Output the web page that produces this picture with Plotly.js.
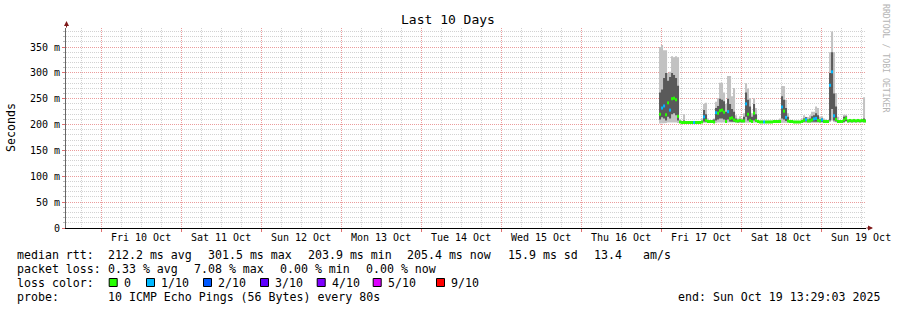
<!DOCTYPE html>
<html><head><meta charset="utf-8">
<script src="https://cdn.plot.ly/plotly-3.0.1.min.js"></script>
<style>html,body{margin:0;padding:0;background:#fff}#chart{width:897px;height:310px}</style>
</head><body><div id="chart"></div>
<script>
// ---------- data ----------
const rangeStart = '2025-10-09 13:29:03';
const rangeEnd = '2025-10-19 13:29:03';
const sampleStart = '2025-10-16 23:24:00';
const sampleStepMin = 36;

const medianMs = [220,232,236,219,242,228,250,251,248,216,
  205,204,204,204,204,204,204,204,204,204,
  204,205,215,208,206,206,206,205,223,222,
  227,228,224,206,225,212,213,209,207,207,
  208,207,207,240,220,208,206,222,208,206,
  205,205,205,205,205,205,205,206,206,206,
  206,234,226,214,207,206,206,205,205,205,
  205,206,208,210,207,207,209,211,212,208,
  207,209,206,206,206,276,302,217,210,206,
  206,206,209,212,207,208,207,208,207,208,
  207,208,207,207];
const lossCount = [0,1,1,0,0,1,0,0,0,0,
  0,0,0,0,0,0,0,1,0,0,
  0,0,1,0,0,0,0,0,1,0,
  0,0,0,0,1,0,0,0,0,0,
  0,0,0,1,0,0,0,0,0,0,
  0,0,1,0,0,0,0,0,0,0,
  0,1,0,1,0,0,0,0,0,0,
  0,0,0,1,0,0,0,1,1,0,
  0,1,0,0,0,1,1,1,0,0,
  0,0,0,0,0,0,0,0,0,0,
  0,0,0,0];
const pingMinMs = [202,203,203,203,204,204,205,205,204,203,
  203,202,202,202,202,202,202,202,202,202,
  202,203,203,203,203,203,203,203,203,204,
  204,204,204,203,204,203,203,203,203,203,
  203,203,203,204,203,203,203,204,203,203,
  203,203,203,203,203,203,203,203,203,203,
  203,204,204,203,203,203,203,203,203,203,
  203,203,203,203,203,203,203,204,204,203,
  203,203,203,203,203,205,208,205,204,203,
  203,203,203,205,203,204,204,204,204,204,
  204,204,204,204];
const pingLowMs = [210,214,212,208,215,212,220,222,218,208,
  204,203,203,203,203,203,203,203,203,203,
  203,204,206,205,204,204,204,204,208,210,
  212,212,210,205,210,206,206,205,205,204,
  205,204,205,215,208,206,205,208,205,204,
  204,204,204,204,204,204,204,204,204,204,
  204,212,210,207,205,204,204,204,204,204,
  204,204,205,206,205,205,205,206,206,205,
  205,205,204,204,204,208,230,208,206,204,
  204,204,205,207,205,205,205,205,205,205,
  205,205,205,205];
const pingHighMs = [262,268,290,300,285,292,300,296,290,275,
  206,206,208,206,206,206,206,206,206,206,
  206,207,228,220,208,207,207,210,232,236,
  250,248,245,225,250,240,230,225,212,208,
  210,208,215,262,248,235,215,240,220,207,
  206,206,206,206,206,206,206,207,207,207,
  208,255,248,232,215,207,207,206,206,206,
  206,208,212,214,210,212,216,218,222,218,
  210,212,208,207,207,300,340,260,235,208,
  207,207,215,216,208,209,209,209,209,209,
  209,209,212,209];
const pingMaxMs = [350,354,344,344,300,302,332,330,332,330,
  210,207,220,207,207,207,207,208,207,207,
  207,212,240,242,212,208,208,212,244,251,
  281,281,262,240,294,294,255,271,218,212,
  216,212,222,280,270,251,222,251,232,208,
  207,207,208,207,207,207,207,208,208,208,
  212,275,274,248,222,208,208,207,207,207,
  207,212,218,215,214,218,225,225,235,232,
  215,216,212,210,208,340,380,340,261,215,
  208,208,219,219,210,211,211,211,211,211,
  211,211,253,211];

const dayTickTimes = ['2025-10-10 12:00','2025-10-11 12:00','2025-10-12 12:00','2025-10-13 12:00','2025-10-14 12:00',
  '2025-10-15 12:00','2025-10-16 12:00','2025-10-17 12:00','2025-10-18 12:00','2025-10-19 12:00'];
const dayTickLabels = ['Fri 10 Oct','Sat 11 Oct','Sun 12 Oct','Mon 13 Oct','Tue 14 Oct',
  'Wed 15 Oct','Thu 16 Oct','Fri 17 Oct','Sat 18 Oct','Sun 19 Oct'];
const midnightTimes = ['2025-10-10','2025-10-11','2025-10-12','2025-10-13','2025-10-14',
  '2025-10-15','2025-10-16','2025-10-17','2025-10-18','2025-10-19'];
const yTickVals = [0,50,100,150,200,250,300,350];
const yTickLabels = ['0','50 m','100 m','150 m','200 m','250 m','300 m','350 m'];

const lossLevels = [0,1,2,3,4,5,9];
const lossLabels = ['0','1/10','2/10','3/10','4/10','5/10','9/10'];
const lossColors = ['#26ff00','#00b8ff','#0059ff','#5e00ff','#7e00ff','#dd00ff','#ff0000'];

const rttStats = ['212.2 ms avg','301.5 ms max','203.9 ms min','205.4 ms now','15.9 ms sd','13.4','am/s'];
const lossStats = ['0.33 % avg','7.08 % max','0.00 % min','0.00 % now'];
const probeText = '10 ICMP Echo Pings (56 Bytes) every 80s';
const endText = 'end: Sun Oct 19 13:29:03 2025';

// ---------- helpers ----------
const t0 = Date.parse(sampleStart.replace(' ','T') + 'Z');
function timeAt(i){ return new Date(t0 + i*sampleStepMin*60000).toISOString().slice(0,19).replace('T',' '); }
function stepSeries(vals){
  const x=[], y=[];
  vals.forEach((v,i)=>{ x.push(timeAt(i), timeAt(i+1)); y.push(v, v); });
  return {x, y};
}
// median drawn as separate short horizontal blocks (no vertical connectors)
function medianSegments(level){
  const x=[], y=[];
  for(let i=0;i<medianMs.length;i++){
    if(lossCount[i]!==level) continue;
    x.push(timeAt(i), timeAt(i+1), null); y.push(medianMs[i], medianMs[i], null);
  }
  return {x, y};
}
const L=66, W=800, T=28, H=200;
const pxX = x => (x-L)/W;
const pxY = y => (T+H-y)/H;
const mono = 'DejaVu Sans Mono, monospace';

// ---------- traces ----------
const traces = [];
const sMin = stepSeries(pingMinMs), sMax = stepSeries(pingMaxMs);
const sLow = stepSeries(pingLowMs), sHigh = stepSeries(pingHighMs);
traces.push({x:sMin.x, y:sMin.y, mode:'lines', line:{width:0}, hoverinfo:'skip', showlegend:false});
traces.push({x:sMax.x, y:sMax.y, mode:'lines', line:{width:0}, fill:'tonexty', fillcolor:'#c2c2c2', hoverinfo:'skip', showlegend:false});
traces.push({x:sLow.x, y:sLow.y, mode:'lines', line:{width:0}, hoverinfo:'skip', showlegend:false});
traces.push({x:sHigh.x, y:sHigh.y, mode:'lines', line:{width:0}, fill:'tonexty', fillcolor:'#5a5a5a', hoverinfo:'skip', showlegend:false});
lossLevels.forEach((lv,k)=>{
  const s = medianSegments(lv);
  if(s.x.length) traces.push({x:s.x, y:s.y, mode:'lines', line:{color:lossColors[k], width:3}, connectgaps:false, hoverinfo:'skip', showlegend:false});
});
traces.push({x:midnightTimes, y:midnightTimes.map(()=>null), xaxis:'x2', mode:'markers', hoverinfo:'skip', showlegend:false});

// ---------- annotations ----------
const ann = [];
function txt(text, x, y, opts){
  ann.push(Object.assign({text:text.replace(/ /g,'\u00a0'), xref:'paper', yref:'paper', x:pxX(x), y:pxY(y),
    xanchor:'left', yanchor:'middle', showarrow:false, borderpad:0,
    font:{family:mono, size:11.6, color:'#000'}}, opts||{}));
}
txt('Last 10 Days', 448, 19, {xanchor:'center', font:{family:mono, size:13, color:'#000'}});
txt('Seconds', 11, 127, {xanchor:'center', textangle:-90});
txt('RRDTOOL / TOBI OETIKER', 886, 59, {xanchor:'center', textangle:90, font:{family:mono, size:8.2, color:'#b4b4b4'}});

const rttX = [107,207,307,406,507,593,642];
txt('median rtt:', 16, 255);
rttStats.forEach((s,i)=>txt(s, rttX[i], 255));
const lossX = [107,193,279,365];
txt('packet loss:', 16, 268.5);
lossStats.forEach((s,i)=>txt(s, lossX[i], 268.5));
txt('loss color:', 16, 282.5);
const lossLabelX = [122.7,160,217,274,330.7,386.7,450];
lossLabels.forEach((s,i)=>txt(s, lossLabelX[i], 282.5));
txt('probe:', 16, 296.5);
txt(probeText, 107, 296.5);
txt(endText, 881, 296.5, {xanchor:'right'});

// axis arrows
ann.push({xref:'paper', yref:'paper', x:pxX(66.5), y:pxY(21), ax:0, ay:8, showarrow:true, arrowhead:2, arrowsize:1, arrowwidth:1, arrowcolor:'#7f1a1a', text:''});
ann.push({xref:'paper', yref:'paper', x:pxX(873), y:pxY(228), ax:-8, ay:0, showarrow:true, arrowhead:2, arrowsize:1, arrowwidth:1, arrowcolor:'#7f1a1a', text:''});

const shapes = lossColors.map((c,i)=>({type:'rect', xref:'paper', yref:'paper',
  x0:pxX(lossLabelX[i]-13.5), x1:pxX(lossLabelX[i]-5.5), y0:pxY(286.5), y1:pxY(278.5),
  fillcolor:c, line:{color:'#000', width:1}}));

const dot = '1px,1px';
const layout = {
  width:897, height:310,
  margin:{l:L, r:897-L-W, t:T, b:310-T-H},
  paper_bgcolor:'#fff', plot_bgcolor:'#fff',
  showlegend:false,
  xaxis:{type:'date', range:[rangeStart, rangeEnd], tickmode:'array', tickvals:dayTickTimes, ticktext:dayTickLabels,
    showgrid:true, gridcolor:'#d2d2d2', griddash:dot, gridwidth:1,
    ticks:'', showline:true, linecolor:'#000', linewidth:1, zeroline:false,
    tickfont:{family:mono, size:10, color:'#000'}, fixedrange:true,
    minor:{tickmode:'linear', tick0:'2025-10-09 06:00', dtick:43200000, showgrid:true, gridcolor:'#d2d2d2', griddash:dot, ticks:''}},
  xaxis2:{type:'date', overlaying:'x', anchor:'y', side:'bottom', range:[rangeStart, rangeEnd], tickmode:'array', tickvals:midnightTimes,
    showticklabels:false, showgrid:true, gridcolor:'#eb9c9c', griddash:dot, gridwidth:1,
    ticks:'outside', ticklen:3, tickcolor:'#e07070', showline:false, zeroline:false, fixedrange:true},
  yaxis:{range:[0, 386.8], tickmode:'array', tickvals:yTickVals, ticktext:yTickLabels,
    showgrid:true, gridcolor:'#eb9c9c', griddash:dot, gridwidth:1, zeroline:false,
    showline:true, linecolor:'#666', linewidth:1,
    ticks:'outside', ticklen:3, tickcolor:'#e07070',
    tickfont:{family:mono, size:10, color:'#000'}, fixedrange:true,
    minor:{tickmode:'linear', tick0:0, dtick:10, showgrid:true, gridcolor:'#d2d2d2', griddash:dot, ticks:'outside', ticklen:2, tickcolor:'#bbb'}},
  annotations:ann,
  shapes:shapes
};
Plotly.newPlot('chart', traces, layout, {staticPlot:true, displayModeBar:false});
</script></body></html>
